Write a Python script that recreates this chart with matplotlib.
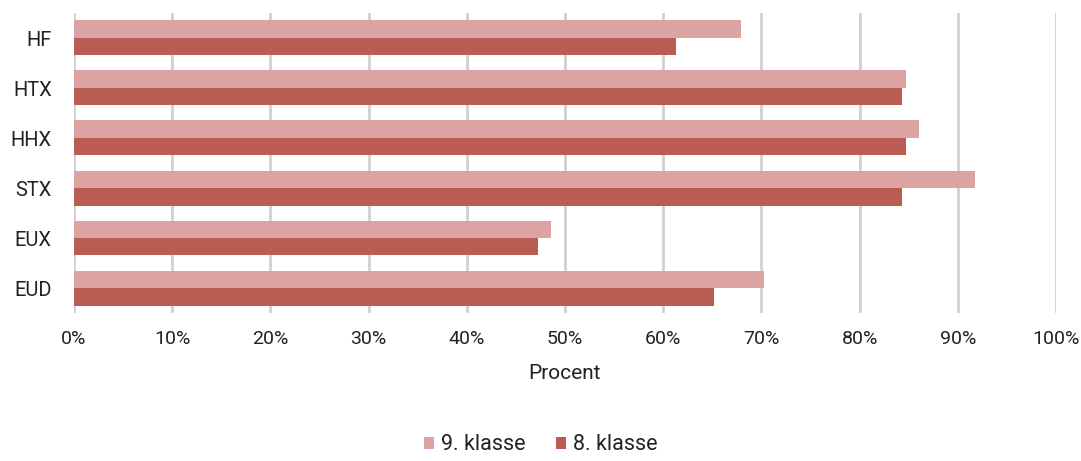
import matplotlib.pyplot as plt
import numpy as np
from matplotlib.ticker import PercentFormatter

# Data (percent)
categories = ['HF', 'HTX', 'HHX', 'STX', 'EUX', 'EUD']
klasse_9 = [67.9, 84.7, 86.0, 91.8, 48.6, 70.3]
klasse_8 = [61.3, 84.3, 84.7, 84.3, 47.2, 65.2]

plt.rcParams['font.family'] = ['Roboto', 'DejaVu Sans']

fig = plt.figure(figsize=(10.81, 4.61), dpi=100)
ax = fig.add_axes([74 / 1081, 1 - 313 / 461, (1056 - 74) / 1081, 300 / 461])

y = np.arange(len(categories))
h = 0.35
ax.barh(y - h / 2, klasse_9, height=h, color='#dba3a2', label='9. klasse', zorder=3)
ax.barh(y + h / 2, klasse_8, height=h, color='#ba5c53', label='8. klasse', zorder=3)

ax.set_xlim(0, 100)
ax.set_ylim(len(categories) - 0.5, -0.5)
ax.set_xticks(np.arange(0, 101, 10))
ax.xaxis.set_major_formatter(PercentFormatter(decimals=0))
ax.set_yticks(y)
ax.set_yticklabels(categories)
ax.grid(axis='x', color='#d0d0d0', linewidth=2, zorder=0)
for s in ax.spines.values():
    s.set_visible(False)
ax.tick_params(axis='x', length=0, labelsize=14, colors='#222222', pad=12)
ax.tick_params(axis='y', length=0, labelsize=14.5, colors='#222222', pad=16)
ax.set_xlabel('Procent', fontsize=15, color='#222222', labelpad=12)

fig.legend(loc='lower center', bbox_to_anchor=(0.5, -0.03), ncol=2, frameon=False,
           fontsize=15.5, handlelength=0.5, handleheight=0.5, handletextpad=0.3,
           columnspacing=1.4, labelcolor='#222222')

fig.savefig('out.png', dpi=100)
